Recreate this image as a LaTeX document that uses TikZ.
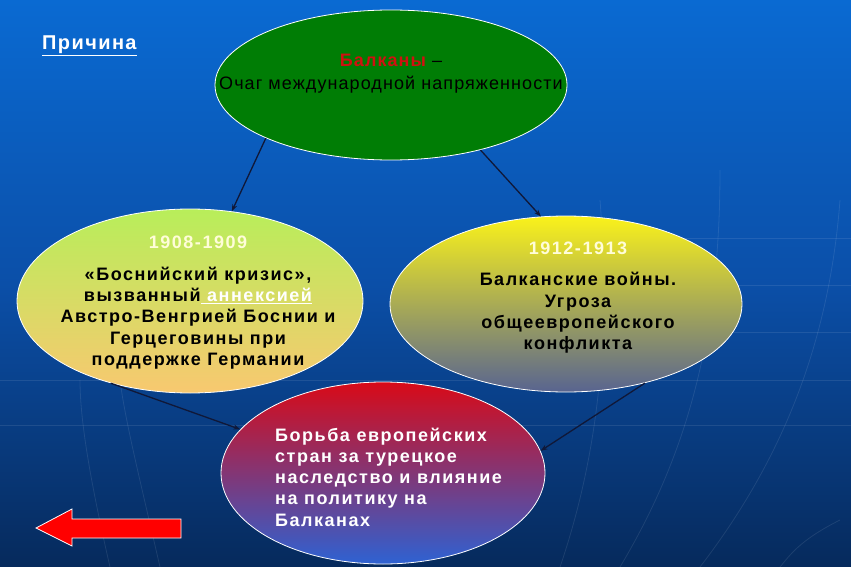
\documentclass[tikz,border=0pt]{standalone}
\usepackage{fontspec}
\setmainfont{Liberation Sans}
\newfontfamily\widebf[LetterSpace=8.5]{Liberation Sans}
\newfontfamily\widerg[LetterSpace=6]{Liberation Sans}
\newfontfamily\widett[LetterSpace=7]{Liberation Sans}
\usetikzlibrary{shapes.geometric,arrows.meta}
\definecolor{bgtop}{HTML}{0A6AD2}
\definecolor{bgmid}{HTML}{0B4FA8}
\definecolor{bgbot}{HTML}{062A5C}
\definecolor{topgreen}{HTML}{007D05}
\definecolor{balred}{HTML}{D01010}
\definecolor{lgtop}{HTML}{B8EE5A}
\definecolor{lgmid}{HTML}{EEE262}
\definecolor{lgbot}{HTML}{F8C870}
\definecolor{rytop}{HTML}{FAF21A}
\definecolor{rymid}{HTML}{D8D050}
\definecolor{rybot}{HTML}{586490}
\definecolor{brtop}{HTML}{D80A18}
\definecolor{brmid}{HTML}{8C3C98}
\definecolor{brbot}{HTML}{2E62D2}
\definecolor{arrowdark}{HTML}{101838}
\tikzset{
  x=1pt, y=-1pt,
  bubble/.style={ellipse, draw=white, line width=0.8pt, inner sep=0pt},
  link/.style={-{Stealth[length=7pt,width=5pt]}, draw=arrowdark, line width=1.3pt},
  caption/.style={font=\widebf\bfseries\fontsize{18}{21.3}\selectfont, align=center, inner sep=0pt},
  grid/.style={draw=white, opacity=0.09, line width=0.8pt},
  backarrow/.style={draw=white, fill=red, line width=0.8pt}
}
\begin{document}
\begin{tikzpicture}
\useasboundingbox (0,0) rectangle (851,567);
\shade[top color=bgtop, bottom color=bgbot, middle color=bgmid] (0,0) rectangle (851,567);
% faint globe grid
\draw[grid] (600,238) -- (851,238);
\draw[grid] (600,285) -- (851,285);
\draw[grid] (600,332) -- (851,332);
\draw[grid] (0,380) -- (851,380);
\draw[grid] (0,425) -- (851,425);
\draw[grid] (620,567) .. controls (690,450) and (720,330) .. (720,170);
\draw[grid] (700,567) .. controls (790,450) and (830,330) .. (840,200);
\draw[grid] (560,567) .. controls (600,450) and (610,330) .. (600,200);
\draw[grid] (110,567) .. controls (90,480) and (80,420) .. (80,380);
\draw[grid] (160,567) .. controls (140,480) and (125,420) .. (120,380);
\draw[grid] (840,520) .. controls (800,540) and (790,555) .. (780,567);

% ellipses
\node[bubble, fill=topgreen, minimum width=352pt, minimum height=150pt] (top) at (391,85) {};
\node[bubble, shading=axis, top color=lgtop, middle color=lgmid, bottom color=lgbot,
      minimum width=346pt, minimum height=184pt] (left) at (190,301) {};
\node[bubble, shading=axis, top color=rytop, middle color=rymid, bottom color=rybot,
      minimum width=352pt, minimum height=176pt] (right) at (566,304) {};
\node[bubble, shading=axis, top color=brtop, middle color=brmid, bottom color=brbot,
      minimum width=324pt, minimum height=182pt] (bottom) at (383,473) {};

% title
\node[font=\widett\bfseries\fontsize{20}{23}\selectfont, text=white, anchor=west, inner sep=0pt] (cause) at (42,46) {\underline{Причина}};

% top text
\node[font=\widerg\fontsize{18}{23}\selectfont, align=center, inner sep=0pt] (toptext) at (391,74)
  {{\color{balred}\bfseries Балканы} –\\Очаг международной напряженности};

% left text
\node[caption, text=white!85!yellow] (ldate) at (198,242) {1908-1909};
\node[caption] (ltext) at (198,318)
  {«Боснийский кризис»,\\вызванный{\color{white}\underline{ аннексией}}\\Австро-Венгрией Боснии и\\Герцеговины при\\поддержке Германии};

% right text
\node[caption, text=white!85!yellow] (rdate) at (578,248) {1912-1913};
\node[caption] (rtext) at (578,313)
  {Балканские войны.\\Угроза\\общеевропейского\\конфликта};

% bottom text
\node[caption, align=left, text=white, anchor=west] (btext) at (275,477)
  {Борьба европейских\\стран за турецкое\\наследство и влияние\\на политику на\\Балканах};

% connectors
\draw[link] (top.203) -- (left.65);
\draw[link] (top.-36) -- (right.106);
\draw[link] (left.226) -- (bottom.163);
\draw[link] (right.-45) -- (bottom.8);

% back arrow
\draw[backarrow] (36,528) -- (72,509) -- (72,519) -- (181,519) -- (181,538) -- (72,538) -- (72,546) -- cycle;
\end{tikzpicture}
\end{document}
